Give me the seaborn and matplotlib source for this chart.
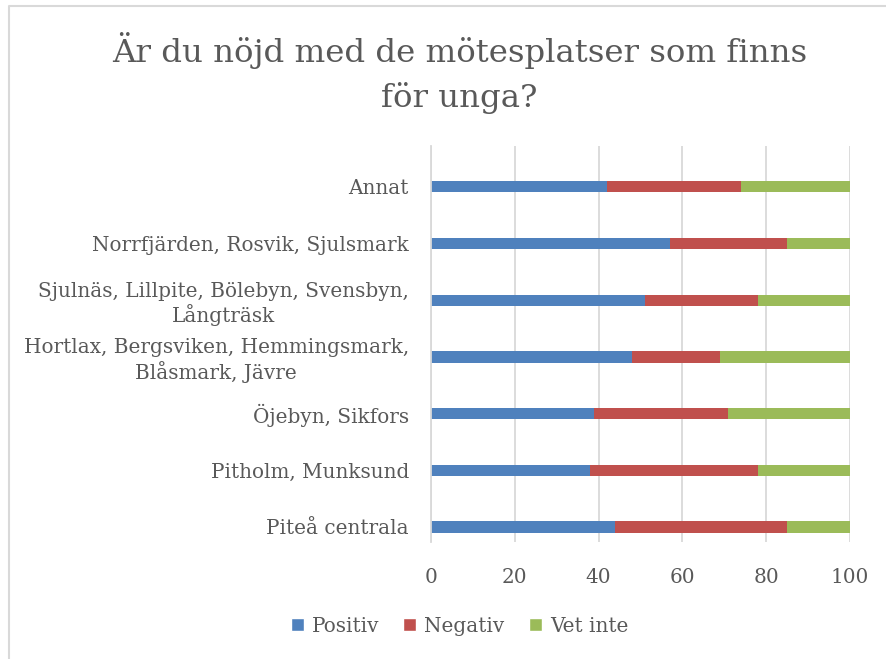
import numpy as np
import pandas as pd
import matplotlib.pyplot as plt
import seaborn as sns
from matplotlib.patches import Patch
from matplotlib.lines import Line2D

categories = [
    "Annat",
    "Norrfjärden, Rosvik, Sjulsmark",
    "Sjulnäs, Lillpite, Bölebyn, Svensbyn,\nLångträsk",
    "Hortlax, Bergsviken, Hemmingsmark,\nBlåsmark, Jävre",
    "Öjebyn, Sikfors",
    "Pitholm, Munksund",
    "Piteå centrala",
]
positiv = [42, 57, 51, 48, 39, 38, 44]
negativ = [32, 28, 27, 21, 32, 40, 41]
vet_inte = [27, 15, 23, 32, 30, 23, 16]
series = ["Positiv", "Negativ", "Vet inte"]
colors = ["#4F81BD", "#C0504D", "#9BBB59"]
x_ticks = [0, 20, 40, 60, 80, 100]

sns.set_theme(style="white")
plt.rcParams["font.family"] = ["DejaVu Serif"]
text_col = "#595959"

df = pd.DataFrame({"Kategori": categories, "Positiv": positiv,
                   "Negativ": negativ, "Vet inte": vet_inte})
df["c1"] = df["Positiv"]
df["c2"] = df["c1"] + df["Negativ"]
df["c3"] = df["c2"] + df["Vet inte"]

fig = plt.figure(figsize=(8.87, 6.59), dpi=100)
ax = fig.add_axes([431 / 887, 1 - 542 / 659, 419 / 887, 396 / 659])

# stacked bars: draw totals first, then overlay shorter cumulative sums
for col, c in zip(["c3", "c2", "c1"], colors[::-1]):
    sns.barplot(data=df, x=col, y="Kategori", orient="h", color=c, saturation=1,
                width=0.2, ax=ax, linewidth=0, order=categories)

ax.set_xlim(0, 100)
ax.set_ylim(6.265, -0.72)
ax.set_xticks(x_ticks)
ax.set_xlabel("")
ax.set_ylabel("")
ax.grid(axis="x", color="#d9d9d9", linewidth=1.3)
ax.set_axisbelow(True)
for s in ["top", "right", "bottom"]:
    ax.spines[s].set_visible(False)
ax.spines["left"].set_color("#d9d9d9")
ax.spines["left"].set_linewidth(1.3)
ax.tick_params(axis="both", length=0, colors=text_col, labelsize=14.4)
ax.tick_params(axis="y", pad=16)
ax.tick_params(axis="x", pad=19)
for lbl in ax.get_yticklabels():
    lbl.set_multialignment("center")

fig.text(0.518, 1 - 73 / 659, "Är du nöjd med de mötesplatser som finns\nför unga?",
         ha="center", va="center", fontsize=23.3, color=text_col, linespacing=1.55)

handles = [Patch(facecolor=c, label=s) for s, c in zip(series, colors)]
fig.legend(handles=handles, loc="center", bbox_to_anchor=(0.518, 1 - 626 / 659),
           ncol=3, frameon=False, fontsize=14.4, labelcolor=text_col,
           handlelength=0.65, handleheight=0.65, handletextpad=0.4, columnspacing=1.2)

fig.add_artist(Line2D([9 / 887, 9 / 887, 1], [0, 1 - 6 / 659, 1 - 6 / 659],
                      color="#d9d9d9", linewidth=1.5, transform=fig.transFigure))

fig.savefig("out.png", dpi=100)
